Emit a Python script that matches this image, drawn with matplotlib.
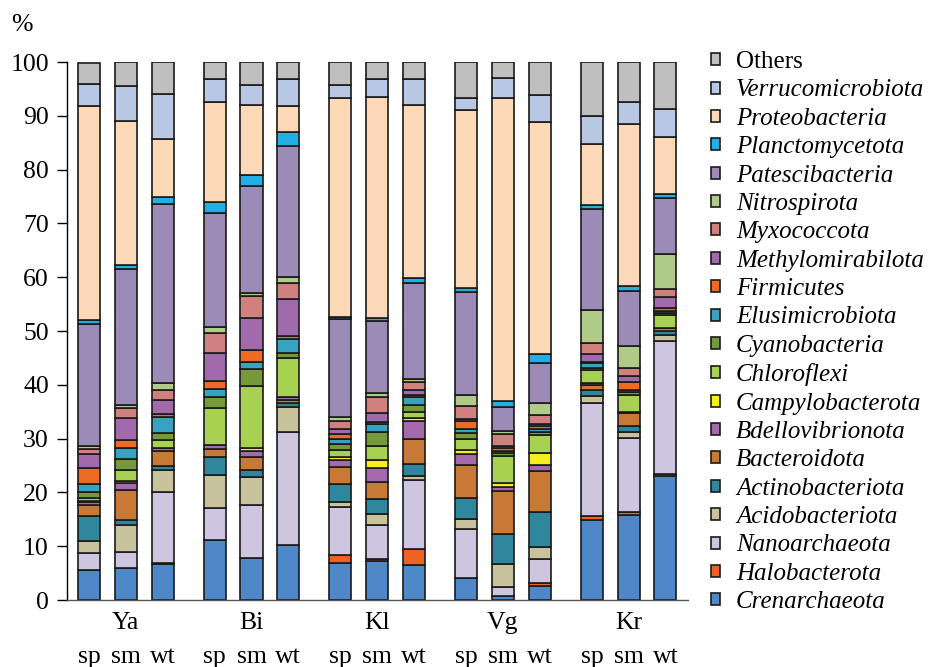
import matplotlib
matplotlib.use('Agg')
import numpy as np
import matplotlib.pyplot as plt
from matplotlib.patches import Patch

plt.rcParams['font.family'] = ['Liberation Serif', 'DejaVu Serif']

groups = ['Ya', 'Bi', 'Kl', 'Vg', 'Kr']
seasons = ['sp', 'sm', 'wt']

# one value per bar: Ya sp/sm/wt, Bi sp/sm/wt, Kl ..., Vg ..., Kr ...
crenarchaeota = [5.5, 6.0, 6.7, 11.1, 7.8, 10.2, 6.9, 7.3, 6.5, 4.1, 0.7, 2.7, 14.9, 15.8, 23.1]
halobacterota = [0, 0, 0.2, 0, 0, 0, 1.4, 0.4, 3.0, 0, 0, 0.4, 0.8, 0.5, 0.4]
nanoarchaeota = [3.2, 3.0, 13.1, 6.0, 9.9, 21.1, 8.9, 6.3, 12.8, 9.1, 1.8, 4.6, 21.0, 13.9, 24.7]
acidobacteriota = [2.3, 4.9, 4.2, 6.1, 5.2, 4.6, 1.0, 1.9, 0.8, 1.8, 4.2, 2.1, 1.2, 1.1, 1.0]
actinobacteriota = [4.7, 1.0, 0.8, 3.3, 1.2, 0.8, 3.3, 2.8, 2.2, 4.0, 5.6, 6.5, 1.2, 1.0, 0.8]
bacteroidota = [2.0, 5.6, 2.7, 1.6, 2.4, 0.5, 3.2, 3.3, 4.7, 6.1, 8.0, 7.7, 0.9, 2.4, 0.5]
bdellovibrionota = [0.5, 1.2, 0.5, 0.8, 1.2, 0.5, 1.3, 2.5, 3.2, 2.0, 0.8, 1.1, 0.3, 0.3, 0.0]
campylobacterota = [0.2, 0.4, 0.1, 0.0, 0.5, 0.0, 0.5, 1.6, 0.7, 0.7, 0.6, 2.2, 0.0, 0.0, 0.0]
chloroflexi = [0.6, 2.1, 1.4, 6.8, 11.6, 7.3, 1.3, 2.6, 1.0, 2.2, 5.0, 3.4, 2.4, 3.2, 2.4]
cyanobacteria = [1.0, 2.1, 1.4, 2.1, 3.2, 1.0, 1.2, 2.6, 1.4, 1.0, 0.6, 0.6, 0.4, 0.5, 0.4]
elusimicrobiota = [1.5, 2.0, 2.9, 1.5, 1.3, 2.5, 1.0, 1.5, 1.5, 0.8, 0.4, 0.4, 0.9, 0.3, 0.5]
firmicutes = [3.1, 1.4, 0.5, 1.4, 2.2, 0.6, 0.9, 0.2, 0.4, 1.4, 0.6, 0.6, 0.3, 1.5, 0.4]
methylomirabilota = [2.5, 4.1, 2.6, 5.3, 6.0, 6.8, 0.8, 1.7, 0.8, 0.5, 0.4, 0.4, 1.5, 1.2, 2.1]
myxococcota = [1.0, 1.9, 1.9, 3.7, 4.0, 3.0, 1.6, 3.1, 1.5, 2.3, 2.1, 1.6, 2.0, 1.4, 1.5]
nitrospirota = [0.5, 0.6, 1.3, 1.1, 0.6, 1.1, 0.7, 0.7, 0.6, 2.2, 0.7, 2.4, 6.2, 4.1, 6.5]
patescibacteria = [22.7, 25.2, 33.4, 21.1, 19.9, 24.3, 18.2, 13.3, 17.8, 19.1, 4.3, 7.3, 18.7, 10.3, 10.4]
planctomycetota = [0.7, 0.8, 1.2, 2.0, 2.0, 2.7, 0.5, 0.7, 0.9, 0.7, 1.2, 1.7, 0.8, 0.8, 0.8]
proteobacteria = [39.8, 26.7, 10.8, 18.6, 13.0, 4.9, 40.6, 41.0, 32.2, 33.0, 56.3, 43.1, 11.3, 30.2, 10.5]
verrucomicrobiota = [4.2, 6.5, 8.3, 4.4, 3.7, 5.0, 2.5, 3.3, 4.8, 2.3, 3.7, 5.0, 5.2, 4.0, 5.3]
others = [3.8, 4.5, 6.0, 3.1, 4.3, 3.1, 4.2, 3.2, 3.2, 6.7, 3.0, 6.2, 10.0, 7.5, 8.7]

# stacking order, bottom -> top
phyla = ['Crenarchaeota', 'Halobacterota', 'Nanoarchaeota', 'Acidobacteriota',
         'Actinobacteriota', 'Bacteroidota', 'Bdellovibrionota', 'Campylobacterota',
         'Chloroflexi', 'Cyanobacteria', 'Elusimicrobiota', 'Firmicutes',
         'Methylomirabilota', 'Myxococcota', 'Nitrospirota', 'Patescibacteria',
         'Planctomycetota', 'Proteobacteria', 'Verrucomicrobiota', 'Others']
values = [crenarchaeota, halobacterota, nanoarchaeota, acidobacteriota,
          actinobacteriota, bacteroidota, bdellovibrionota, campylobacterota,
          chloroflexi, cyanobacteria, elusimicrobiota, firmicutes,
          methylomirabilota, myxococcota, nitrospirota, patescibacteria,
          planctomycetota, proteobacteria, verrucomicrobiota, others]
colors = ['#4f88c9', '#f0621f', '#cec5e1', '#c8c29d', '#2e879d', '#c97936',
          '#a46aab', '#f7ef1c', '#a9d151', '#769a39', '#37a3c0', '#ee6a25',
          '#a16aac', '#d18080', '#b0cb88', '#9c8bb7', '#21afe6', '#fed9b8',
          '#b8c7e3', '#bfbfbf']

gap = 3.42
x = np.array([g * gap + i for g in range(len(groups)) for i in range(len(seasons))])

fig = plt.figure(figsize=(9.3, 6.67), dpi=100)
ax = fig.add_axes([0.072, 0.1004, 0.668, 0.8066])

bottom = np.zeros(len(x))
for name, vals, c in zip(phyla, values, colors):
    vals = np.array(vals)
    ax.bar(x, vals, width=0.6, bottom=bottom, color=c, edgecolor='#1a1a1a', linewidth=1.2)
    bottom += vals

ax.set_xlim(-0.6, 16.3)
ax.set_ylim(0, 100)
ax.set_yticks(np.arange(0, 101, 10))
ax.tick_params(axis='y', labelsize=18.5, length=7, width=1.0, direction='out', pad=6)
ax.set_xticks([])
for s in ['top', 'right']:
    ax.spines[s].set_visible(False)
ax.spines['left'].set_linewidth(1.0)
ax.spines['bottom'].set_linewidth(1.0)
ax.spines['bottom'].set_color('#555555')

tr = ax.get_xaxis_transform()
for g, name in enumerate(groups):
    ax.text(g * gap + 1, -0.043, name, transform=tr, ha='center', va='center', fontsize=18.5)
    for i, s in enumerate(seasons):
        ax.text(g * gap + i, -0.106, s, transform=tr, ha='center', va='center', fontsize=18.5)

fig.text(0.024, 0.962, '%', ha='center', va='center', fontsize=18.5)

handles = [Patch(facecolor=c, edgecolor='#1a1a1a', linewidth=1.2) for c in colors]
leg = fig.legend(handles[::-1], phyla[::-1], loc='center left', bbox_to_anchor=(0.765, 0.502),
                 frameon=False, fontsize=18, handlelength=0.36, handleheight=0.36,
                 handletextpad=0.62, labelspacing=0.255, borderaxespad=0, borderpad=0)
for t in leg.get_texts():
    if t.get_text() != 'Others':
        t.set_style('italic')

fig.savefig('out.png', dpi=100)
